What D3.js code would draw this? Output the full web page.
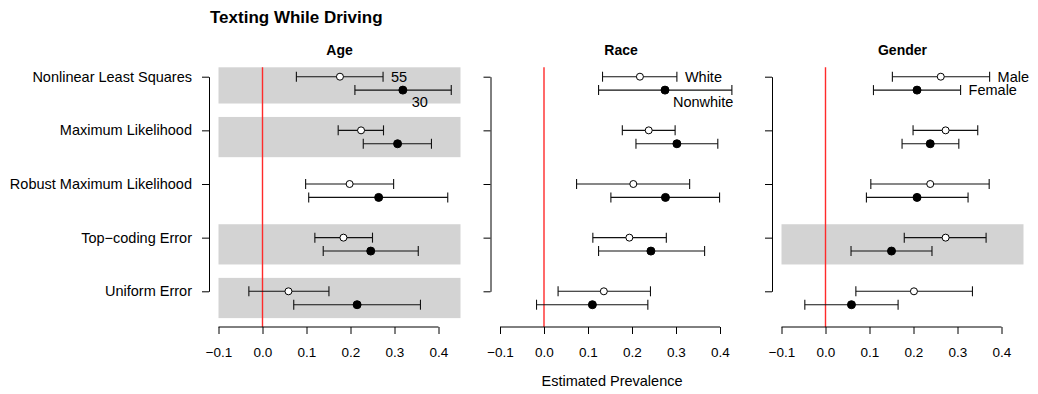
<!DOCTYPE html>
<html>
<head>
<meta charset="utf-8">
<script src="https://cdn.jsdelivr.net/npm/d3@7"></script>
<style>
  body { margin: 0; background: #fff; }
  svg { font-family: "Liberation Sans", Arial, Helvetica, sans-serif; }
</style>
</head>
<body>
<svg id="chart" width="1038" height="394"></svg>
<script>
// rows, panels, group labels
var methods = ["Nonlinear Least Squares", "Maximum Likelihood", "Robust Maximum Likelihood",
               "Top\u2212coding Error", "Uniform Error"];
var panels = ["Age", "Race", "Gender"];
var groupLabels = [["55", "30"], ["White", "Nonwhite"], ["Male", "Female"]];
var xTicks = [-0.1, 0, 0.1, 0.2, 0.3, 0.4];
var shadedRows = [[0, 1, 3, 4], [], [3]];

// [estimate, lower, upper] for each method
var ageOpen    = [[0.176, 0.077, 0.274], [0.224, 0.172, 0.275], [0.198, 0.098, 0.298], [0.184, 0.119, 0.250], [0.059, -0.031, 0.151]];
var ageFilled  = [[0.319, 0.210, 0.429], [0.307, 0.229, 0.384], [0.264, 0.105, 0.421], [0.246, 0.138, 0.354], [0.215, 0.071, 0.359]];
var raceOpen   = [[0.218, 0.133, 0.302], [0.238, 0.178, 0.298], [0.203, 0.074, 0.331], [0.194, 0.111, 0.278], [0.136, 0.032, 0.242]];
var raceFilled = [[0.275, 0.124, 0.427], [0.302, 0.209, 0.395], [0.276, 0.152, 0.399], [0.243, 0.124, 0.365], [0.110, -0.017, 0.236]];
var genderOpen   = [[0.262, 0.152, 0.373], [0.273, 0.199, 0.346], [0.238, 0.103, 0.372], [0.273, 0.179, 0.365], [0.201, 0.069, 0.334]];
var genderFilled = [[0.208, 0.109, 0.307], [0.238, 0.174, 0.303], [0.208, 0.093, 0.324], [0.150, 0.058, 0.242], [0.059, -0.047, 0.165]];

var openSeries = [ageOpen, raceOpen, genderOpen];
var filledSeries = [ageFilled, raceFilled, genderFilled];

// where the second group label sits (data x, row units); null = right of the interval
var filledLabelAt = [[0.339, 1.47], [0.293, 1.47], null];

var _svg = d3.select("#chart"),
    _panelLeft = [218.5, 500, 781.5],
    _panelW = 242,
    _plotTop = 67.3,
    _plotBottom = 327,
    _offset = 0.25,
    _cap = 5;

var y = d3.scaleLinear().domain([1, 5]).range([76.7, 291.3]);

_svg.append("text")
    .attr("x", 210).attr("y", 23)
    .attr("font-size", 17).attr("font-weight", "bold")
    .text("Texting While Driving");

var drawInterval = function(g, x, d, yy, filled){
    g.append("line")
        .attr("x1", x(d[1])).attr("x2", x(d[2]))
        .attr("y1", yy).attr("y2", yy)
        .attr("stroke", "#111").attr("stroke-width", 1.1);
    [d[1], d[2]].forEach(function(v){
        g.append("line")
            .attr("x1", x(v)).attr("x2", x(v))
            .attr("y1", yy - _cap).attr("y2", yy + _cap)
            .attr("stroke", "#111").attr("stroke-width", 1.1);
    });
    g.append("circle")
        .attr("cx", x(d[0])).attr("cy", yy)
        .attr("r", filled ? 4 : 3.5)
        .attr("fill", filled ? "#000" : "#fff")
        .attr("stroke", "#000").attr("stroke-width", 1);
};

panels.forEach(function(name, p){
    var L = _panelLeft[p];
    var x = d3.scaleLinear().domain([-0.1, 0.45]).range([L, L + _panelW]);
    var g = _svg.append("g");

    // shaded rows
    shadedRows[p].forEach(function(r){
        var top = Math.max(_plotTop, y(r + 1 - 0.25));
        g.append("rect")
            .attr("x", x(-0.1)).attr("width", _panelW)
            .attr("y", top).attr("height", y(r + 1.5) - top)
            .attr("fill", "#d3d3d3");
    });

    // zero line
    g.append("line")
        .attr("x1", x(0)).attr("x2", x(0))
        .attr("y1", _plotTop).attr("y2", _plotBottom)
        .attr("stroke", "#ff2a2a").attr("stroke-width", 1.4);

    methods.forEach(function(m, i){
        drawInterval(g, x, openSeries[p][i], y(i + 1), false);
        drawInterval(g, x, filledSeries[p][i], y(i + 1 + _offset), true);
    });

    // group labels
    g.append("text")
        .attr("x", x(openSeries[p][0][2]) + 8).attr("y", y(1)).attr("dy", "0.35em")
        .attr("font-size", 14.5).text(groupLabels[p][0]);
    var fl = filledLabelAt[p];
    g.append("text")
        .attr("x", fl ? x(fl[0]) : x(filledSeries[p][0][2]) + 8)
        .attr("y", fl ? y(fl[1]) : y(1 + _offset)).attr("dy", "0.35em")
        .attr("font-size", 14.5).text(groupLabels[p][1]);

    // panel title
    _svg.append("text")
        .attr("x", L + _panelW / 2).attr("y", 55)
        .attr("text-anchor", "middle")
        .attr("font-size", 14).attr("font-weight", "bold")
        .text(name);

    // bottom axis
    var xa = _svg.append("g")
        .attr("transform", "translate(0," + _plotBottom + ")")
        .call(d3.axisBottom(x).tickValues(xTicks).tickSize(7).tickSizeOuter(0)
              .tickPadding(13.5).tickFormat(d3.format(".1f")));
    xa.select(".domain").remove();
    xa.append("line")
        .attr("x1", x(-0.1)).attr("x2", x(0.4))
        .attr("stroke", "#000");
    xa.selectAll("text").attr("font-size", 13.5).attr("font-family", null).attr("fill", "#000");
    xa.selectAll(".tick line").attr("stroke", "#000");

    // left axis
    var ya = _svg.append("g")
        .attr("transform", "translate(" + (L - 9.5) + ",0)")
        .call(d3.axisLeft(y).tickValues([1, 2, 3, 4, 5]).tickSize(7).tickSizeOuter(0)
              .tickPadding(10)
              .tickFormat(function(d){ return p === 0 ? methods[d - 1] : ""; }));
    ya.selectAll("text").attr("font-size", 14.5).attr("font-family", null).attr("fill", "#000");
    ya.selectAll("line, path").attr("stroke", "#000");
});

_svg.append("text")
    .attr("x", 612).attr("y", 386)
    .attr("text-anchor", "middle")
    .attr("font-size", 14.5)
    .text("Estimated Prevalence");
</script>
</body>
</html>
